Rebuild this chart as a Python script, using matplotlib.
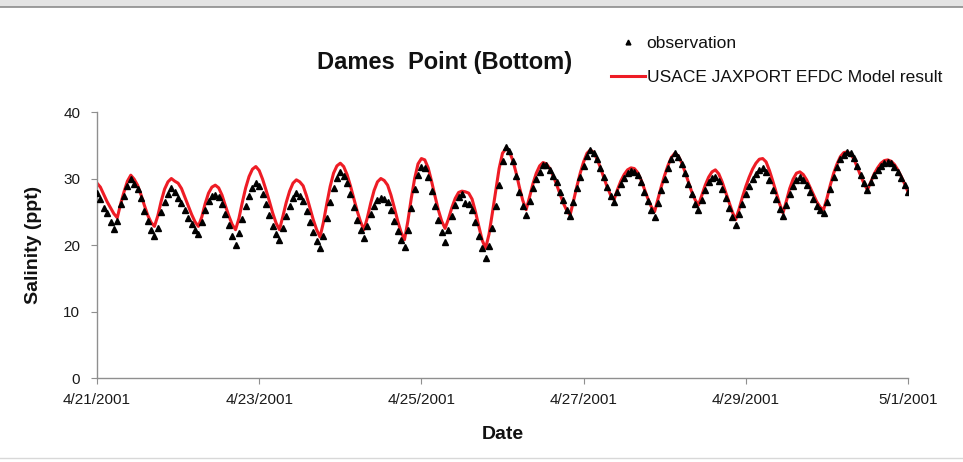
import matplotlib.pyplot as plt
import matplotlib.dates as mdates
from matplotlib.lines import Line2D
from matplotlib.patches import Rectangle
import pandas as pd

plt.rcParams['font.family'] = ['Liberation Sans', 'DejaVu Sans']

# hourly salinity at Dames Point, bottom layer (ppt)
observed = [
    27.8, 26.9, 25.6, 24.8, 23.5, 22.4,
    23.6, 26.1, 27.4, 28.9, 30.0,
    29.2, 28.4, 27.0, 25.1, 23.6, 22.3, 21.3,
    22.6, 24.9, 26.5, 27.6, 28.5,
    28.0, 27.1, 26.3, 25.2, 24.0, 23.1, 22.2, 21.7,
    23.4, 25.3, 26.6, 27.3, 27.5,
    27.2, 26.2, 24.6, 23.0, 21.4, 20.0,
    21.8, 23.9, 25.8, 27.4, 28.6, 29.3,
    28.8, 27.6, 26.2, 24.5, 22.9, 21.6, 20.7,
    22.6, 24.4, 25.9, 27.0, 27.8,
    27.3, 26.6, 25.1, 23.4, 21.9, 20.6, 19.5,
    21.3, 24.0, 26.4, 28.5, 30.1, 31.0,
    30.4, 29.3, 27.6, 25.7, 23.8, 22.2, 21.0,
    22.8, 24.6, 25.9, 26.8, 27.0,
    26.9, 26.5, 25.2, 23.6, 22.1, 20.8, 19.7,
    22.3, 25.6, 28.4, 30.6, 31.8,
    31.6, 30.2, 28.1, 25.8, 23.7, 21.9, 20.5,
    22.3, 24.3, 26.0, 27.2, 27.6, 26.3,
    26.1, 25.2, 23.4, 21.4, 19.5, 18.0,
    19.8, 22.6, 25.8, 29.0, 32.6, 34.8,
    34.2, 32.6, 30.4, 28.0, 25.9, 24.5,
    26.6, 28.5, 29.9, 31.0, 32.1, 32.0,
    31.3, 30.4, 29.4, 28.0, 26.7, 25.3, 24.3,
    26.4, 28.5, 30.3, 31.9, 33.4, 34.3,
    33.9, 32.9, 31.6, 30.2, 28.7, 27.4, 26.5,
    27.9, 29.1, 30.1, 30.8, 31.2, 31.0,
    30.5, 29.4, 28.0, 26.6, 25.2, 24.2,
    26.3, 28.2, 29.9, 31.6, 33.0, 33.8,
    33.3, 32.2, 30.8, 29.2, 27.6, 26.2, 25.3,
    26.8, 28.3, 29.4, 30.1, 30.3,
    29.6, 28.4, 27.0, 25.6, 24.2, 23.0,
    24.6, 26.2, 27.6, 28.8, 29.9, 30.7, 31.3, 31.6,
    31.0, 29.8, 28.3, 26.9, 25.4, 24.3,
    26.0, 27.6, 28.9, 29.8, 30.2,
    29.8, 29.0, 28.0, 26.9, 25.9, 25.2, 24.8,
    26.5, 28.4, 30.2, 31.7, 32.9, 33.6, 34.0,
    33.8, 33.1, 31.9, 30.6, 29.3, 28.3,
    29.4, 30.5, 31.3, 31.9, 32.3, 32.5,
    32.3, 31.8, 31.0, 30.1, 29.0, 28.0,
]

model = [
    29.3, 28.7, 27.6, 26.5, 25.6, 24.7, 24.1,
    26.2, 28.0, 29.6, 30.5,
    29.9, 29.0, 27.6, 26.0, 24.5, 23.4, 22.8,
    24.4, 26.6, 28.4, 29.5, 30.0,
    29.6, 29.3, 28.5, 27.2, 25.9, 24.6, 23.5, 22.8,
    24.2, 26.2, 27.8, 28.7, 29.0,
    28.6, 27.5, 25.9, 24.4, 23.1, 22.3,
    24.0, 26.4, 28.6, 30.3, 31.4, 31.8,
    31.2, 29.9, 28.3, 26.6, 24.8, 23.3, 22.3,
    24.3, 26.4, 28.1, 29.3, 29.8,
    29.5, 28.9, 27.4, 25.6, 23.8, 22.3, 21.2,
    23.4, 26.2, 28.8, 30.8, 31.9, 32.3,
    31.8, 30.6, 28.9, 27.0, 25.1, 23.5, 22.3,
    24.1, 26.3, 28.2, 29.5, 30.0,
    29.7, 29.0, 27.5, 25.6, 23.6, 21.9, 20.8,
    23.6, 27.0, 30.0, 32.2, 33.0,
    32.8, 31.6, 29.6, 27.4, 25.3, 23.6, 22.5,
    23.9, 25.6, 27.0, 27.9, 28.1, 28.0, 27.8,
    26.9, 25.0, 22.8, 20.7, 19.5,
    21.6, 24.8, 28.2, 31.5, 33.8, 34.5,
    34.1, 32.8, 30.9, 28.7, 26.7, 25.3,
    27.2, 29.2, 30.8, 31.9, 32.4, 32.2,
    31.5, 30.4, 29.1, 27.7, 26.3, 25.2, 24.5,
    26.6, 28.8, 30.8, 32.5, 33.8, 34.3,
    33.9, 32.9, 31.6, 30.1, 28.7, 27.5, 26.8,
    28.3, 29.6, 30.6, 31.3, 31.6, 31.5,
    30.9, 29.8, 28.4, 27.0, 25.8, 25.0,
    26.9, 28.8, 30.5, 32.0, 33.2, 33.8,
    33.4, 32.4, 31.0, 29.5, 28.0, 26.8, 26.0,
    27.5, 29.0, 30.2, 31.0, 31.3,
    30.7, 29.5, 28.0, 26.5, 25.0, 23.8,
    25.4, 27.2, 28.8, 30.2, 31.4, 32.3, 32.9, 33.0,
    32.5, 31.2, 29.6, 27.9, 26.2, 24.8,
    26.6, 28.5, 29.9, 30.8, 31.0,
    30.6, 29.8, 28.7, 27.6, 26.5, 25.7, 25.3,
    27.0, 29.0, 30.8, 32.2, 33.3, 33.9, 34.0,
    33.7, 32.9, 31.7, 30.4, 29.2, 28.3,
    29.5, 30.7, 31.6, 32.3, 32.7, 32.8,
    32.6, 32.1, 31.3, 30.3, 29.2, 28.0,
]

times = pd.date_range('2001-04-21 00:00', periods=len(observed), freq='h')
x_start = pd.Timestamp('2001-04-21')
x_end = pd.Timestamp('2001-05-01')
y_ticks = [0, 10, 20, 30, 40]

fig = plt.figure(figsize=(9.63, 4.62), dpi=100)
fig.patch.set_facecolor('white')

# window-style border around the pasted chart
fig.patches.append(Rectangle((0, 1 - 7 / 462), 1, 7 / 462, transform=fig.transFigure,
                             facecolor='#e4e4e4', edgecolor='none'))
fig.lines.append(Line2D([0, 1], [1 - 7 / 462, 1 - 7 / 462], transform=fig.transFigure,
                        color='#8c8c8c', lw=1.2))
fig.lines.append(Line2D([0, 1], [4 / 462, 4 / 462], transform=fig.transFigure,
                        color='#d8d8d8', lw=1))

ax = fig.add_axes([97 / 963, 1 - 378 / 462, 811 / 963, 266 / 462])

ax.plot(times, model, color='#ee1c25', lw=2.2, zorder=2,
        label='USACE JAXPORT EFDC Model result')
ax.plot(times, observed, linestyle='none', marker='^', color='black',
        markersize=4.6, zorder=3, label='observation')

ax.set_xlim(x_start, x_end)
ax.set_ylim(0, 40)
ax.set_yticks(y_ticks)
ax.xaxis.set_major_locator(mdates.DayLocator(interval=2))
ax.xaxis.set_major_formatter(
    plt.FuncFormatter(lambda v, pos: '{d.month}/{d.day}/{d.year}'.format(d=mdates.num2date(v))))

for side in ['top', 'right']:
    ax.spines[side].set_visible(False)
for side in ['left', 'bottom']:
    ax.spines[side].set_color('#8f8f8f')
    ax.spines[side].set_linewidth(1.0)
ax.tick_params(axis='both', colors='#8f8f8f', labelcolor='#1a1a1a',
               labelsize=11, length=4, direction='out')
ax.tick_params(axis='y', pad=8)
ax.tick_params(axis='x', pad=7)

ax.set_ylabel('Salinity (ppt)', fontsize=14, fontweight='bold', color='#111111')
ax.yaxis.set_label_coords(-0.068, 0.5)
ax.set_xlabel('Date', fontsize=14, fontweight='bold', color='#111111')
ax.xaxis.set_label_coords(0.5, -0.18)

fig.text(445 / 963, 1 - 62 / 462, 'Dames  Point (Bottom)', fontsize=17,
         fontweight='bold', ha='center', va='center', color='#111111')

handles, labels = ax.get_legend_handles_labels()
leg = fig.legend(handles[::-1], labels[::-1], loc='upper left',
                 bbox_to_anchor=(611 / 963, 1 - 36 / 462), frameon=False,
                 fontsize=12.5, handlelength=1.95, handletextpad=0.1,
                 labelspacing=1.1, borderpad=0, borderaxespad=0, markerscale=0.75)
for t in leg.get_texts():
    t.set_color('#111111')

fig.savefig('out.png', dpi=100)
